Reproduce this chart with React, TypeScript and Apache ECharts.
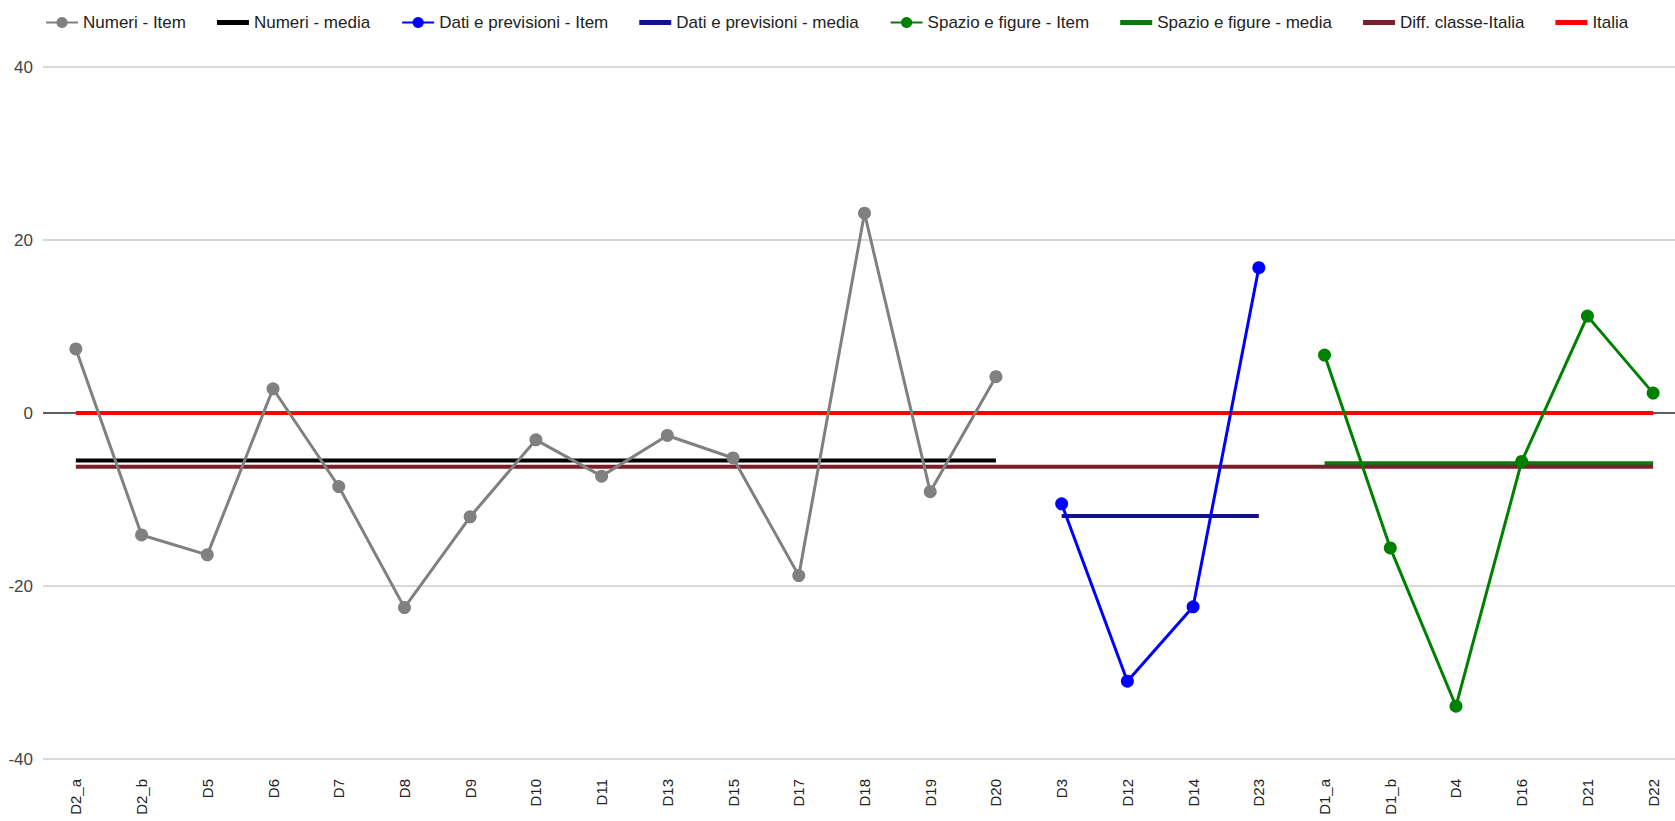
import React, { useEffect, useRef } from "react";
import * as echarts from "echarts";

const categories = [
  "D2_a", "D2_b", "D5", "D6", "D7", "D8", "D9", "D10", "D11", "D13", "D15", "D17", "D18", "D19", "D20",
  "D3", "D12", "D14", "D23",
  "D1_a", "D1_b", "D4", "D16", "D21", "D22",
];

const numeriItem = [7.4, -14.1, -16.4, 2.8, -8.5, -22.5, -12.0, -3.1, -7.3, -2.6, -5.2, -18.8, 23.1, -9.1, 4.2];
const datiItem = [-10.5, -31.0, -22.4, 16.8];
const spazioItem = [6.7, -15.6, -33.9, -5.6, 11.2, 2.3];

const numeriMedia = -5.5;
const datiMedia = -11.9;
const spazioMedia = -5.8;
const diffClasseItalia = -6.2;
const italia = 0;

const yTicks = [-40, -20, 0, 20, 40];

const itemNames = ["Numeri - Item", "Dati e previsioni - Item", "Spazio e figure - Item"];
const legendNames = [
  "Numeri - Item",
  "Numeri - media",
  "Dati e previsioni - Item",
  "Dati e previsioni - media",
  "Spazio e figure - Item",
  "Spazio e figure - media",
  "Diff. classe-Italia",
  "Italia",
];

const FONT = "'Liberation Sans', Arial, sans-serif";
const LINE_ICON = "path://M0,0L32,0L32,5L0,5Z";

function placeGroup(values: number[], offset: number) {
  const out: (number | null)[] = categories.map(() => null);
  values.forEach((v, i) => (out[offset + i] = v));
  return out;
}

function constantOver(value: number, offset: number, count: number) {
  const out: (number | null)[] = categories.map(() => null);
  for (let i = 0; i < count; i++) out[offset + i] = value;
  return out;
}

export default function App() {
  const ref = useRef<HTMLDivElement>(null);

  useEffect(() => {
    document.body.style.margin = "0";
    document.body.style.overflow = "hidden";
    document.documentElement.style.overflow = "hidden";
    if (!ref.current) return;
    const chart = echarts.init(ref.current, undefined, { renderer: "svg" });

    const nN = numeriItem.length;
    const nD = datiItem.length;
    const nS = spazioItem.length;

    const itemSeries = (name: string, color: string, data: (number | null)[], z: number) => ({
      name,
      type: "line",
      data,
      symbol: "circle",
      symbolSize: 13,
      showSymbol: true,
      connectNulls: false,
      z,
      lineStyle: { color, width: 3 },
      itemStyle: { color },
      emphasis: { disabled: true },
    });

    const mediaSeries = (name: string, color: string, data: (number | null)[], z: number) => ({
      name,
      type: "line",
      data,
      symbol: "none",
      connectNulls: false,
      z,
      lineStyle: { color, width: 4 },
      itemStyle: { color },
      emphasis: { disabled: true },
    });

    chart.setOption({
      animation: false,
      textStyle: { fontFamily: FONT },
      legend: {
        data: legendNames.map((name) =>
          itemNames.includes(name) ? { name } : { name, icon: LINE_ICON }
        ),
        left: 40,
        top: 9,
        itemWidth: 32,
        itemHeight: 14,
        itemGap: 31,
        textStyle: { fontFamily: FONT, fontSize: 17, color: "#222" },
      },
      grid: { left: 43, right: 4, top: 67, bottom: 62, containLabel: false },
      xAxis: {
        type: "category",
        data: categories,
        boundaryGap: true,
        axisLine: { show: false },
        axisTick: { show: false },
        splitLine: { show: false },
        axisLabel: {
          rotate: 90,
          interval: 0,
          margin: 20,
          fontFamily: FONT,
          fontSize: 15,
          color: "#222",
        },
      },
      yAxis: {
        type: "value",
        min: yTicks[0],
        max: yTicks[yTicks.length - 1],
        interval: 20,
        axisLine: { show: false },
        axisTick: { show: false },
        splitLine: { lineStyle: { color: "#cccccc", width: 1.5 } },
        axisLabel: { fontFamily: FONT, fontSize: 17, color: "#444", margin: 10 },
      },
      series: [
        {
          name: "baseline",
          type: "line",
          data: [],
          z: 1,
          silent: true,
          markLine: {
            z: 1,
            silent: true,
            symbol: ["none", "none"],
            label: { show: false },
            lineStyle: { color: "#333333", width: 1.5, type: "solid" },
            data: [{ yAxis: 0 }],
          },
        },
        itemSeries("Numeri - Item", "#808080", placeGroup(numeriItem, 0), 5),
        mediaSeries("Numeri - media", "#000000", constantOver(numeriMedia, 0, nN), 3),
        itemSeries("Dati e previsioni - Item", "#0000ff", placeGroup(datiItem, nN), 5),
        mediaSeries("Dati e previsioni - media", "#12128a", constantOver(datiMedia, nN, nD), 3),
        itemSeries("Spazio e figure - Item", "#008000", placeGroup(spazioItem, nN + nD), 5),
        mediaSeries("Spazio e figure - media", "#0b7a0b", constantOver(spazioMedia, nN + nD, nS), 3),
        mediaSeries("Diff. classe-Italia", "#7b1f2c", constantOver(diffClasseItalia, 0, categories.length), 3),
        mediaSeries("Italia", "#ff0000", constantOver(italia, 0, categories.length), 3),
      ],
    });

    return () => chart.dispose();
  }, []);

  return <div ref={ref} style={{ width: 1690, height: 821 }} />;
}
